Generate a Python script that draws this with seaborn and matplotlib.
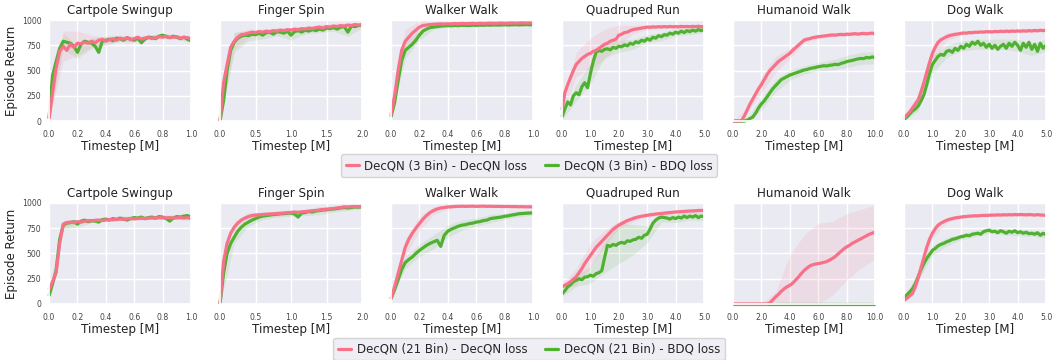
import numpy as np
import matplotlib
matplotlib.use("Agg")
import matplotlib.pyplot as plt
import seaborn as sns
from matplotlib.lines import Line2D

# ---------------- data ----------------
TASKS = ["Cartpole Swingup", "Finger Spin", "Walker Walk", "Quadruped Run", "Humanoid Walk", "Dog Walk"]
X_MAX = [1.0, 2.0, 1.0, 5.0, 10.0, 5.0]
N_POINTS = [41, 41, 41, 51, 51, 51]
X_TICKS = [
    [0.0, 0.2, 0.4, 0.6, 0.8, 1.0],
    [0.0, 0.5, 1.0, 1.5, 2.0],
    [0.0, 0.2, 0.4, 0.6, 0.8, 1.0],
    [0.0, 1.0, 2.0, 3.0, 4.0, 5.0],
    [0.0, 2.0, 4.0, 6.0, 8.0, 10.0],
    [0.0, 1.0, 2.0, 3.0, 4.0, 5.0],
]
Y_TICKS = [0, 250, 500, 750, 1000]
LEGEND_LABELS = [
    ["DecQN (3 Bin) - DecQN loss", "DecQN (3 Bin) - BDQ loss"],
    ["DecQN (21 Bin) - DecQN loss", "DecQN (21 Bin) - BDQ loss"],
]

# ---- Row 1: 3 bins ----
cartpole_3_decqn = [20, 280, 520, 690, 740, 700, 760, 730, 770, 765, 780, 770, 790, 775, 800, 810, 790, 805, 815, 800,
                    820, 810, 825, 805, 815, 830, 810, 820, 830, 815, 825, 835, 830, 840, 825, 830, 835, 820, 830, 825, 815]
cartpole_3_bdq = [30, 450, 590, 720, 790, 780, 770, 740, 680, 760, 790, 780, 770, 740, 680, 790, 800, 810, 795, 820,
                  815, 800, 825, 810, 800, 820, 775, 810, 830, 825, 815, 840, 850, 835, 825, 840, 830, 815, 830, 810, 795]
finger_3_decqn = [0, 380, 560, 730, 790, 830, 855, 860, 870, 880, 875, 885, 880, 890, 885, 895, 890, 900, 895, 905,
                  900, 910, 905, 915, 910, 920, 915, 925, 930, 920, 935, 930, 940, 935, 945, 940, 950, 945, 955, 950, 955]
finger_3_bdq = [0, 200, 500, 700, 780, 820, 840, 850, 845, 860, 855, 870, 850, 875, 880, 860, 885, 880, 870, 890,
                850, 885, 895, 880, 900, 890, 905, 895, 910, 900, 920, 915, 925, 910, 930, 935, 880, 940, 935, 945, 950]
walker_3_decqn = [60, 250, 500, 700, 790, 830, 870, 900, 930, 945, 950, 955, 958, 960, 962, 960, 963, 962, 965, 963,
                  966, 964, 965, 967, 965, 968, 966, 967, 969, 967, 968, 970, 968, 969, 971, 969, 970, 972, 970, 971, 970]
walker_3_bdq = [40, 180, 400, 600, 700, 730, 760, 800, 850, 890, 910, 925, 930, 935, 940, 942, 945, 943, 946, 944,
                948, 946, 945, 949, 947, 950, 948, 951, 949, 952, 950, 951, 953, 951, 952, 954, 952, 953, 955, 953, 954]
quadruped_3_decqn = [110, 280, 360, 430, 500, 560, 590, 620, 640, 660, 670, 690, 700, 720, 740, 760, 770, 790, 800, 810,
                     850, 860, 875, 880, 895, 905, 910, 915, 920, 925, 930, 928, 932, 930, 934, 931, 935, 932, 936, 933,
                     935, 932, 937, 934, 936, 933, 937, 935, 938, 934, 936]
quadruped_3_bdq = [40, 120, 190, 160, 250, 280, 260, 340, 380, 330, 470, 590, 680, 700, 690, 710, 715, 705, 730, 720,
                   740, 735, 755, 745, 770, 760, 785, 775, 800, 790, 815, 800, 830, 820, 845, 835, 855, 850, 870, 860,
                   880, 870, 890, 875, 895, 885, 900, 890, 905, 895, 905]
humanoid_3_decqn = [0, 0, 0, 5, 50, 110, 170, 220, 270, 320, 360, 410, 460, 500, 530, 560, 590, 610, 630, 650,
                    670, 700, 725, 750, 775, 800, 810, 815, 825, 830, 835, 838, 842, 845, 850, 852, 850, 855, 858, 855,
                    860, 858, 862, 865, 860, 865, 868, 863, 868, 870, 866]
humanoid_3_bdq = [0, 0, 0, 0, 0, 10, 25, 40, 80, 130, 170, 200, 240, 280, 320, 350, 380, 410, 425, 440,
                  455, 465, 475, 485, 495, 505, 510, 520, 525, 530, 538, 542, 548, 545, 552, 555, 562, 558, 570, 578,
                  588, 595, 600, 608, 615, 620, 618, 630, 625, 635, 628]
dog_3_decqn = [30, 60, 90, 130, 170, 210, 290, 380, 480, 580, 670, 730, 780, 805, 820, 835, 845, 852, 858, 862,
               868, 872, 870, 876, 874, 880, 878, 882, 880, 885, 884, 882, 887, 885, 889, 886, 890, 887, 891, 888,
               892, 889, 893, 890, 895, 892, 897, 893, 899, 895, 900]
dog_3_bdq = [15, 40, 70, 100, 120, 150, 200, 260, 360, 470, 560, 600, 640, 660, 650, 690, 700, 680, 720, 700,
             740, 720, 760, 740, 780, 760, 790, 750, 770, 730, 760, 720, 750, 710, 740, 760, 720, 770, 740, 780,
             750, 700, 770, 730, 780, 710, 760, 690, 770, 720, 750]

# ---- Row 2: 21 bins ----
cartpole_21_decqn = [140, 220, 310, 600, 790, 805, 810, 805, 815, 810, 820, 825, 822, 828, 830, 826, 832, 835, 833, 838,
                     840, 838, 842, 845, 843, 846, 848, 845, 850, 852, 850, 855, 853, 852, 855, 850, 852, 855, 850, 855, 845]
cartpole_21_bdq = [80, 200, 330, 640, 780, 800, 805, 815, 790, 820, 830, 815, 825, 820, 810, 835, 840, 830, 845, 835,
                   850, 840, 830, 845, 855, 850, 860, 845, 855, 860, 850, 865, 860, 845, 820, 850, 865, 860, 870, 875, 860]
finger_21_decqn = [0, 420, 600, 700, 760, 800, 830, 850, 865, 875, 880, 882, 885, 888, 890, 892, 895, 897, 900, 902,
                   905, 910, 905, 912, 915, 918, 922, 925, 930, 935, 938, 940, 945, 950, 955, 962, 960, 963, 965, 963, 966]
finger_21_bdq = [0, 300, 500, 600, 660, 720, 760, 790, 810, 830, 845, 860, 870, 875, 880, 885, 888, 892, 895, 898,
                 900, 890, 860, 900, 905, 915, 910, 920, 925, 930, 932, 938, 940, 945, 950, 955, 950, 955, 960, 958, 962]
walker_21_decqn = [50, 170, 300, 430, 560, 640, 700, 750, 795, 840, 875, 905, 925, 940, 950, 955, 960, 962, 965, 966,
                   967, 966, 967, 968, 966, 967, 968, 966, 967, 965, 966, 965, 964, 965, 963, 964, 962, 963, 961, 962, 960]
walker_21_bdq = [50, 140, 240, 340, 410, 440, 465, 500, 530, 555, 580, 600, 615, 630, 570, 680, 720, 740, 755, 770,
                 780, 785, 795, 800, 810, 815, 825, 830, 845, 850, 855, 860, 868, 872, 880, 885, 893, 895, 898, 900, 902]
quadruped_21_decqn = [170, 185, 200, 220, 245, 270, 310, 350, 400, 440, 480, 520, 560, 590, 620, 650, 680, 710, 740, 760,
                      780, 795, 810, 825, 835, 845, 855, 862, 868, 873, 878, 882, 886, 890, 893, 896, 899, 902, 905, 908,
                      910, 912, 914, 916, 918, 920, 921, 923, 925, 926, 927]
quadruped_21_bdq = [100, 130, 170, 190, 220, 235, 250, 240, 265, 270, 285, 275, 300, 310, 330, 460, 580, 570, 590, 580,
                    600, 610, 600, 625, 620, 635, 640, 660, 650, 680, 690, 740, 800, 830, 850, 860, 855, 850, 840, 855,
                    845, 860, 850, 870, 855, 870, 860, 875, 855, 870, 865]
humanoid_21_decqn = [0, 0, 0, 0, 0, 0, 0, 0, 0, 0, 0, 0, 0, 10, 40, 70, 95, 125, 150, 170,
                     185, 205, 235, 265, 300, 330, 355, 375, 388, 395, 400, 405, 412, 420, 435, 450, 470, 495, 520, 545,
                     565, 580, 600, 615, 630, 645, 660, 675, 690, 700, 712]
humanoid_21_bdq = [0, 0, 0, 0, 0, 0, 0, 0, 0, 0, 0, 0, 0, 0, 0, 0, 0, 0, 0, 0,
                   0, 0, 0, 0, 0, 0, 0, 0, 0, 0, 0, 0, 0, 0, 0, 0, 0, 0, 0, 0,
                   0, 0, 0, 0, 0, 0, 0, 0, 0, 0, 0]
dog_21_decqn = [35, 55, 80, 105, 170, 260, 360, 460, 560, 640, 700, 745, 780, 800, 815, 828, 838, 845, 852, 856,
                860, 864, 866, 869, 871, 873, 872, 875, 877, 876, 878, 880, 879, 882, 880, 883, 881, 884, 882, 885,
                883, 886, 884, 882, 885, 883, 880, 884, 881, 879, 878]
dog_21_bdq = [55, 90, 120, 150, 200, 270, 340, 400, 450, 490, 530, 550, 575, 590, 600, 615, 625, 640, 645, 655,
              665, 670, 680, 675, 690, 695, 700, 690, 715, 725, 730, 715, 720, 705, 725, 715, 700, 720, 710, 725,
              705, 715, 700, 710, 695, 700, 690, 705, 680, 700, 685]

# spread (half width of shaded band) at 11 evenly spaced timesteps
cartpole_3_decqn_sd = [10, 150, 120, 60, 40, 30, 25, 20, 20, 20, 20]
cartpole_3_bdq_sd = [10, 80, 60, 50, 40, 30, 25, 20, 20, 20, 20]
finger_3_decqn_sd = [0, 80, 40, 30, 25, 25, 25, 25, 25, 25, 20]
finger_3_bdq_sd = [0, 100, 50, 40, 40, 50, 40, 35, 35, 40, 30]
walker_3_decqn_sd = [10, 120, 60, 20, 10, 10, 8, 8, 8, 8, 8]
walker_3_bdq_sd = [10, 80, 50, 20, 15, 10, 10, 10, 10, 10, 10]
quadruped_3_decqn_sd = [50, 120, 150, 150, 100, 40, 25, 20, 20, 20, 20]
quadruped_3_bdq_sd = [30, 80, 100, 80, 60, 50, 40, 40, 35, 30, 30]
humanoid_3_decqn_sd = [0, 20, 80, 80, 50, 30, 20, 20, 20, 20, 20]
humanoid_3_bdq_sd = [0, 20, 60, 60, 50, 40, 40, 50, 60, 60, 60]
dog_3_decqn_sd = [10, 50, 80, 40, 20, 15, 15, 15, 15, 15, 15]
dog_3_bdq_sd = [10, 50, 90, 60, 50, 50, 50, 50, 60, 60, 60]

cartpole_21_decqn_sd = [20, 40, 20, 15, 15, 15, 15, 15, 15, 15, 15]
cartpole_21_bdq_sd = [20, 40, 30, 20, 20, 20, 20, 20, 20, 20, 20]
finger_21_decqn_sd = [0, 60, 40, 25, 25, 25, 20, 20, 20, 20, 15]
finger_21_bdq_sd = [0, 60, 40, 35, 30, 30, 30, 40, 30, 25, 20]
walker_21_decqn_sd = [10, 80, 70, 40, 20, 10, 8, 8, 8, 8, 8]
walker_21_bdq_sd = [10, 60, 60, 70, 60, 50, 40, 40, 30, 30, 25]
quadruped_21_decqn_sd = [30, 80, 120, 80, 40, 30, 20, 20, 20, 20, 20]
quadruped_21_bdq_sd = [30, 60, 80, 150, 200, 150, 80, 50, 40, 40, 40]
humanoid_21_decqn_sd = [0, 0, 0, 50, 300, 350, 400, 365, 330, 290, 270]
humanoid_21_bdq_sd = [0, 0, 0, 0, 0, 0, 0, 0, 0, 0, 0]
dog_21_decqn_sd = [10, 60, 50, 20, 15, 15, 15, 15, 15, 15, 15]
dog_21_bdq_sd = [10, 40, 50, 40, 30, 30, 30, 30, 30, 30, 30]

ROWS = [
    [(cartpole_3_decqn, cartpole_3_decqn_sd, cartpole_3_bdq, cartpole_3_bdq_sd),
     (finger_3_decqn, finger_3_decqn_sd, finger_3_bdq, finger_3_bdq_sd),
     (walker_3_decqn, walker_3_decqn_sd, walker_3_bdq, walker_3_bdq_sd),
     (quadruped_3_decqn, quadruped_3_decqn_sd, quadruped_3_bdq, quadruped_3_bdq_sd),
     (humanoid_3_decqn, humanoid_3_decqn_sd, humanoid_3_bdq, humanoid_3_bdq_sd),
     (dog_3_decqn, dog_3_decqn_sd, dog_3_bdq, dog_3_bdq_sd)],
    [(cartpole_21_decqn, cartpole_21_decqn_sd, cartpole_21_bdq, cartpole_21_bdq_sd),
     (finger_21_decqn, finger_21_decqn_sd, finger_21_bdq, finger_21_bdq_sd),
     (walker_21_decqn, walker_21_decqn_sd, walker_21_bdq, walker_21_bdq_sd),
     (quadruped_21_decqn, quadruped_21_decqn_sd, quadruped_21_bdq, quadruped_21_bdq_sd),
     (humanoid_21_decqn, humanoid_21_decqn_sd, humanoid_21_bdq, humanoid_21_bdq_sd),
     (dog_21_decqn, dog_21_decqn_sd, dog_21_bdq, dog_21_bdq_sd)],
]

# ---------------- style ----------------
sns.set_theme(style="darkgrid")
plt.rcParams["font.family"] = ["DejaVu Sans"]
palette = sns.color_palette("husl", 3)
C_DECQN, C_BDQ = palette[0], palette[1]

fig, axes = plt.subplots(2, 6, figsize=(10.52, 3.6), dpi=100, sharey=True)
fig.subplots_adjust(left=0.0466, right=0.9943, top=0.9444, bottom=0.1556, wspace=0.204, hspace=0.81)

LW = 2.3
for r in range(2):
    for c in range(6):
        ax = axes[r, c]
        dec, dec_sd, bdq, bdq_sd = ROWS[r][c]
        x = np.linspace(0, X_MAX[c], N_POINTS[c])
        step = (N_POINTS[c] - 1) // 10
        xb = x[::step]
        for y, sd, col in [(bdq, bdq_sd, C_BDQ), (dec, dec_sd, C_DECQN)]:
            y = np.asarray(y, float)
            yb = y[::step]
            sd = np.asarray(sd, float)
            ax.fill_between(xb, np.clip(yb - sd, 0, 1000), np.clip(yb + sd, 0, 1000),
                            color=col, alpha=0.12, linewidth=0)
            sns.lineplot(x=x, y=y, ax=ax, color=col, linewidth=LW, errorbar=None,
                         clip_on=False, solid_capstyle="butt")
        ax.set_xlim(0, X_MAX[c])
        ax.set_ylim(0, 1000)
        ax.set_xticks(X_TICKS[c])
        ax.set_xticklabels([f"{t:.1f}" for t in X_TICKS[c]])
        ax.set_yticks(Y_TICKS)
        ax.tick_params(axis="both", labelsize=5.6, length=0, colors="#444444")
        ax.tick_params(axis="x", pad=6.3)
        ax.tick_params(axis="y", pad=5.5)
        ax.set_title(TASKS[c], fontsize=8.6, pad=4, color="#222222")
        ax.set_xlabel("Timestep [M]", fontsize=8.6, labelpad=1, color="#222222")
        if c == 0:
            ax.set_ylabel("Episode Return", fontsize=8.6, labelpad=3, color="#222222")
        else:
            ax.set_ylabel("")

for r, yc in enumerate([0.540, 0.030]):
    handles = [Line2D([0], [0], color=C_DECQN, lw=LW), Line2D([0], [0], color=C_BDQ, lw=LW)]
    fig.legend(handles, LEGEND_LABELS[r], loc="center", bbox_to_anchor=(0.503, yc), ncol=2,
               fontsize=8.5, handlelength=1.1, handletextpad=0.5, columnspacing=1.5,
               frameon=True, borderpad=0.4)

fig.savefig("out.png", dpi=100)
